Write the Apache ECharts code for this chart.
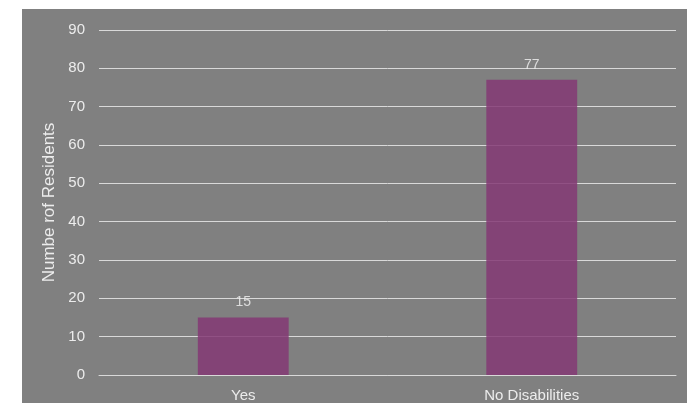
<!DOCTYPE html>
<html><head><meta charset="utf-8">
<script src="https://cdn.jsdelivr.net/npm/echarts@6/dist/echarts.min.js"></script>
<style>html,body{margin:0;padding:0;background:#fff;}#c{width:693px;height:403px;}</style>
</head><body><div id="c"></div>
<script>
const categories = ['Yes', 'No Disabilities'];
const residents = [15, 77];
const yTicks = { min: 0, max: 90, interval: 10 };
const yAxisTitle = 'Numbe rof Residents';

const chart = echarts.init(document.getElementById('c'));
const txt = '#ececec';
chart.setOption({
  animation: false,
  backgroundColor: '#fff',
  graphic: [{ type: 'rect', left: 22, top: 9, shape: { width: 665, height: 394 }, style: { fill: '#808080' }, z: -10 }],
  grid: { left: 99, right: 17, top: 30, bottom: 28 },
  xAxis: {
    type: 'category', data: categories,
    axisLine: { show: true, lineStyle: { color: '#d9d9d9', width: 1 } },
    axisTick: { show: false },
    axisLabel: { color: txt, fontFamily: 'Liberation Sans', fontSize: 15, margin: 13 }
  },
  yAxis: {
    type: 'value', min: yTicks.min, max: yTicks.max, interval: yTicks.interval,
    name: yAxisTitle, nameLocation: 'middle', nameGap: 35, nameRotate: 90,
    nameTextStyle: { color: txt, fontFamily: 'Liberation Sans', fontSize: 17 },
    axisLine: { show: false }, axisTick: { show: false },
    axisLabel: { color: txt, fontFamily: 'Liberation Sans', fontSize: 15, margin: 14 },
    splitLine: { lineStyle: { color: '#d9d9d9', width: 1 } }
  },
  series: [{
    type: 'bar', data: residents, barWidth: '31.5%',
    itemStyle: { color: 'rgb(132,56,116)', opacity: 0.85 },
    label: { show: true, position: 'top', distance: 8, color: txt, fontFamily: 'Liberation Sans', fontSize: 14 }
  }]
});
</script></body></html>
